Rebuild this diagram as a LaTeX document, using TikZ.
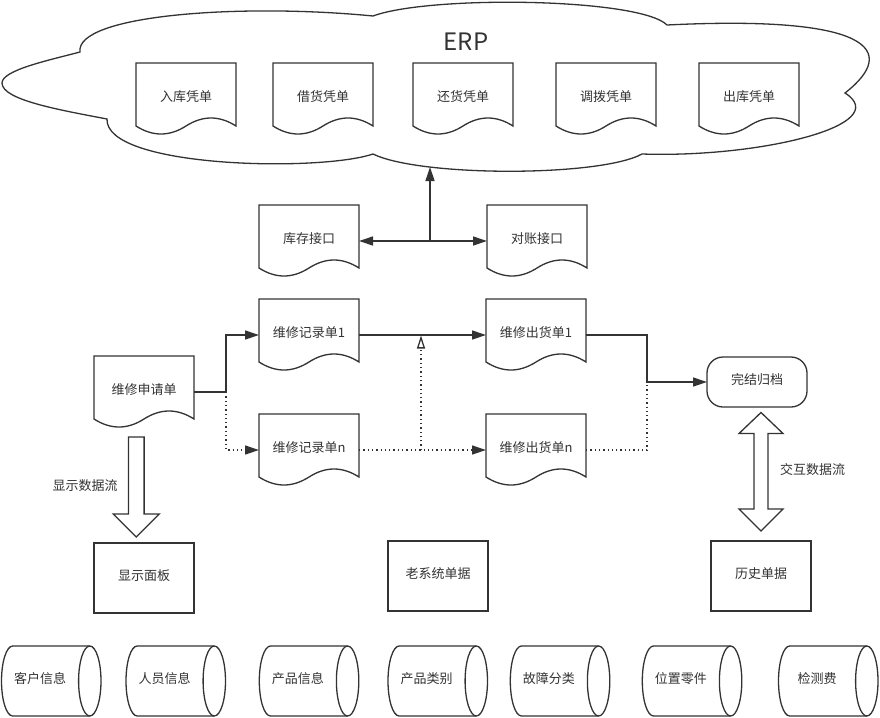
\documentclass[tikz,border=0pt]{standalone}
\usepackage{fontspec}
\setmainfont{Noto Sans CJK SC}
\usetikzlibrary{arrows.meta,calc}
\definecolor{ink}{HTML}{333333}

\newcommand{\docu}[4]{% name, left, top, text
  \node[docn] (#1) at (#2+50,#3+36) {#4};
  \draw[ln] (#2,#3) -- (#2+100,#3) -- (#2+100,#3+63)
    .. controls +(-16.67,-10.67) and +(16.67,-10.67) .. (#2+50,#3+63)
    .. controls +(-16.67,10.67) and +(16.67,10.67) .. (#2,#3+63) -- cycle;
}
\newcommand{\cyl}[3]{% name, left, text
  \draw[ln] (#2+11.2,646) arc[start angle=90,end angle=270,x radius=11.2pt,y radius=35pt]
    -- (#2+99.5-11.2,716) arc[start angle=-90,end angle=90,x radius=11.2pt,y radius=35pt] -- cycle;
  \draw[ln] (#2+99.5-11.2,646) arc[start angle=90,end angle=270,x radius=11.2pt,y radius=35pt];
  \node[txt] (#1) at (#2+38.5,681) {#3};
}

\begin{document}
\begin{tikzpicture}[x=1pt,y=-1pt,
  ln/.style={draw=ink,line width=1.3pt,line join=miter},
  dotl/.style={ln,dash pattern=on 1.3pt off 3pt},
  arr/.style={ln,-{Triangle[length=14pt,width=9pt]}},
  harr/.style={-{Triangle[open,length=13pt,width=8pt,fill=white]}},
  txt/.style={text=ink,font=\fontsize{13}{15}\selectfont,inner sep=0pt,outer sep=0pt,text height=10pt,text depth=6pt},
  docn/.style={txt,minimum width=100pt,minimum height=72pt},
  boxn/.style={txt,ln,minimum width=100pt,minimum height=70pt},
]
\fill[white] (0,0) rectangle (880,717);
\useasboundingbox (0,0) rectangle (880,717);

% ERP cloud
\draw[ln,fill=white] (80,52)
  .. controls (75,15) and (240,3) .. (373,16)
  .. controls (430,-5) and (640,-2) .. (667,25)
  .. controls (870,15) and (900,50) .. (845,93)
  .. controls (895,125) and (760,158) .. (642,154)
  .. controls (600,177) and (420,177) .. (373,154)
  .. controls (320,172) and (105,168) .. (107,119)
  .. controls (60,110) and (2,100) .. (2,83)
  .. controls (2,70) and (50,60) .. (80,52) -- cycle;
\node[text=ink,font=\fontsize{24}{28}\selectfont,inner sep=0pt] (erp) at (466,42) {ERP};

\docu{rk}{136}{63}{入库凭单}
\docu{jh}{273}{63}{借货凭单}
\docu{hh}{413}{63}{还货凭单}
\docu{db}{556}{63}{调拨凭单}
\docu{ck}{699}{63}{出库凭单}

\docu{kc}{259}{205}{库存接口}
\docu{dz}{487}{205}{对账接口}

\docu{sq}{94}{356}{维修申请单}
\docu{jl1}{259}{299}{维修记录单1}
\docu{ch1}{486}{299}{维修出货单1}
\docu{jln}{259}{414}{维修记录单n}
\docu{chn}{486}{414}{维修出货单n}

\node[txt,draw=ink,line width=1.3pt,minimum width=100pt,minimum height=50pt,rounded corners=16pt] (wj) at (757,382) {完结归档};

\node[boxn] (xs) at (144,578) {显示面板};
\node[boxn] (lx) at (438,576) {老系统单据};
\node[boxn] (ls) at (761,576) {历史单据};

% ERP connectors
\coordinate (j1) at (430,241);
\coordinate (cb) at (430,167);
\draw[arr] (j1) -- (cb);
\draw[arr] (j1) -- (kc.east);
\draw[arr] (j1) -- (dz.west);

% repair flow
\coordinate (s1) at (226,392);
\draw[arr] (sq.east) -- (s1) |- (jl1.west);
\draw[dotl,-{Triangle[length=14pt,width=9pt]}] (s1) |- (jln.west);
\draw[arr] (jl1.east) -- (ch1.west);
\draw[dotl,-{Triangle[length=14pt,width=9pt]}] (jln.east) -- (chn.west);
\coordinate (h1) at (421,450);
\coordinate (h2) at (421,335.5);
\draw[dotl,harr] (h1) -- (h2);
\coordinate (m1) at (647,382);
\draw[arr] (ch1.east) -| (m1) -- (wj.west);
\draw[dotl] (chn.east) -| (m1);

% display data flow arrow
\draw[ln,fill=white] (128.5,437) -- (144.1,437) -- (144.1,514) -- (159.3,514)
  -- (136.3,537) -- (113.3,514) -- (128.5,514) -- cycle;
\node[txt] (lab1) at (85,488) {显示数据流};

% interaction double arrow
\draw[ln,fill=white] (761,412.5) -- (783,433.5) -- (768,433.5) -- (768,509) -- (783,509)
  -- (761,531) -- (739,509) -- (754,509) -- (754,433.5) -- (739,433.5) -- cycle;
\node[txt] (lab2) at (812.5,472) {交互数据流};

% cylinders
\cyl{c1}{1.5}{客户信息}
\cyl{c2}{126}{人员信息}
\cyl{c3}{259.3}{产品信息}
\cyl{c4}{388}{产品类别}
\cyl{c5}{510.3}{故障分类}
\cyl{c6}{642.3}{位置零件}
\cyl{c7}{778.5}{检测费}
\end{tikzpicture}
\end{document}
